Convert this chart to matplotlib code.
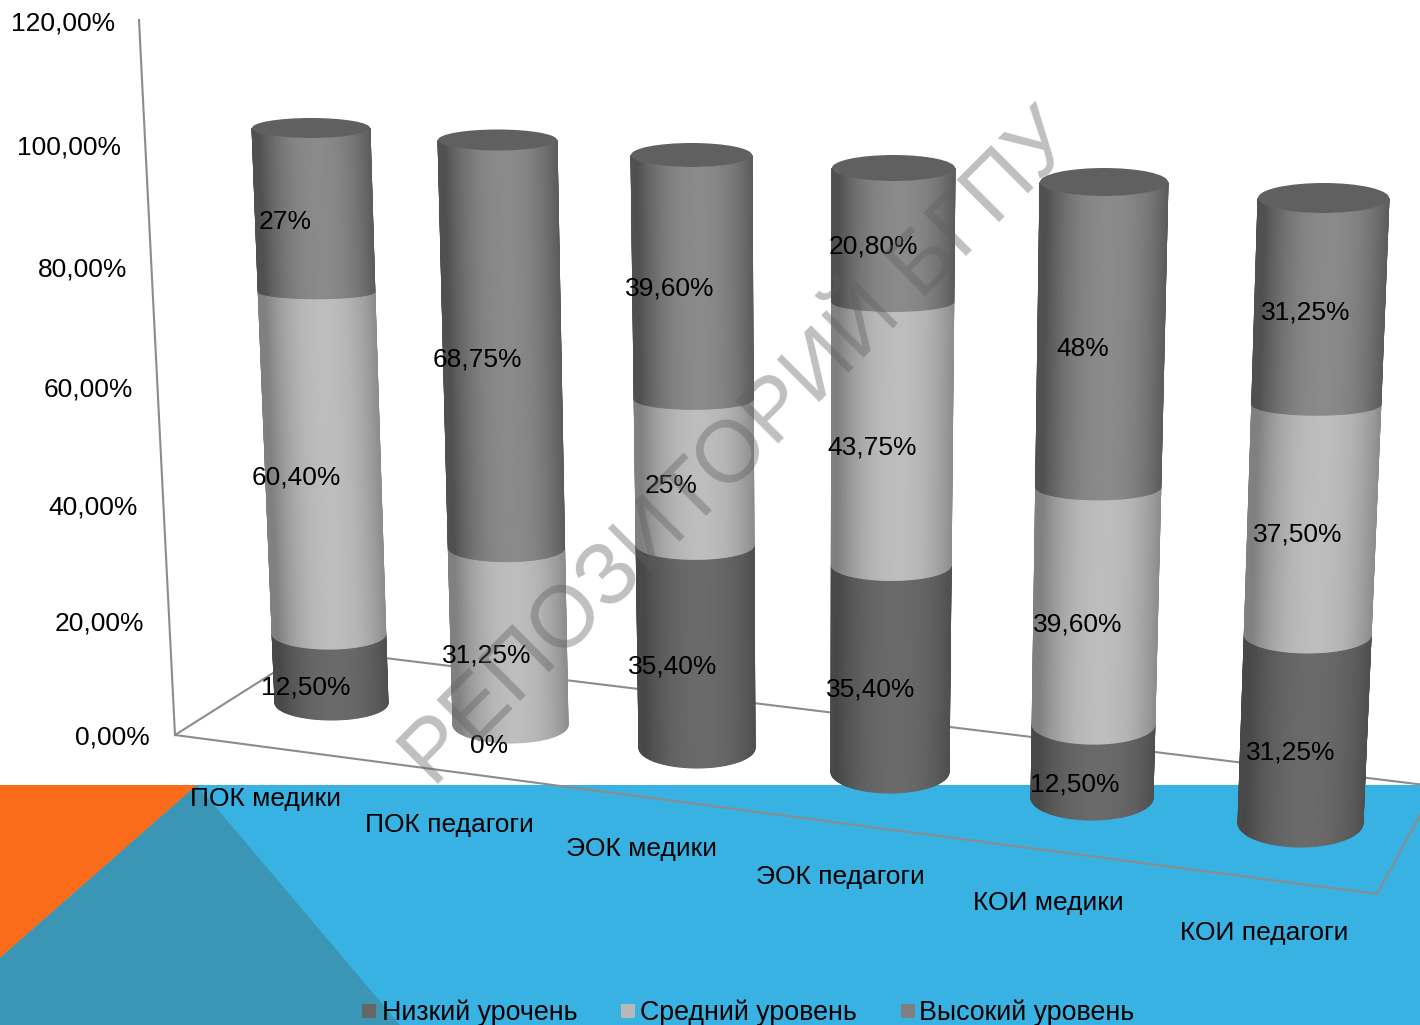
import numpy as np
import matplotlib
matplotlib.use('Agg')
import matplotlib.pyplot as plt
from matplotlib.colors import LinearSegmentedColormap
from matplotlib.patches import Ellipse, Polygon, Rectangle

plt.rcParams['font.family'] = ['Liberation Sans', 'DejaVu Sans']

# data
categories = ['ПОК медики', 'ПОК педагоги', 'ЭОК медики', 'ЭОК педагоги', 'КОИ медики', 'КОИ педагоги']
low = [12.5, 0, 35.4, 35.4, 12.5, 31.25]
mid = [60.4, 31.25, 25, 43.75, 39.6, 37.5]
high = [27, 68.75, 39.6, 20.8, 48, 31.25]
low_labels = ['12,50%', '0%', '35,40%', '35,40%', '12,50%', '31,25%']
mid_labels = ['60,40%', '31,25%', '25%', '43,75%', '39,60%', '37,50%']
high_labels = ['27%', '68,75%', '39,60%', '20,80%', '48%', '31,25%']
y_ticks = ['0,00%', '20,00%', '40,00%', '60,00%', '80,00%', '100,00%', '120,00%']
series_names = ['Низкий урочень', 'Средний уровень', 'Высокий уровень']

# perspective of the 3d chart, in pixels
top_left = [252, 438, 631, 832, 1040, 1258]
top_right = [370, 557, 752, 955, 1168, 1389]
bot_left = [275, 453, 639, 831, 1031, 1238]
bot_right = [388, 568, 755, 949, 1153, 1363]
top_cy = [128, 140, 155, 168, 182, 198]
front_bot = [720, 743, 768, 793, 820, 847]
cap_hh = [10, 10.5, 12, 13, 14, 15]
bot_hh = [17, 18, 20, 21, 22, 24]
side_hh = [7, 8, 8, 9, 9, 10]
label_dx = [-26, -23, -23, -20, -18, -14]
label_lean = [-6, -4, 0, 0, 0, -1]
label_drop = [-1, 0, 3, 3, 3, 5]
tick_right = [150, 144, 138, 133, 127, 121, 115]
tick_y = [738, 623, 507, 390, 270, 147, 24]
cat_x = [265, 449, 641, 840, 1048, 1264]
cat_y = [799, 825, 849, 877, 903, 933]
legend_sq = [362, 621, 901]
legend_tx = [382, 640, 919]

# edge / center shades of each series
shades = [('#484848', '#6a6a6a'), ('#808080', '#bdbdbd'), ('#505050', '#8a8a8a')]
legend_colors = ['#666666', '#b8b8b8', '#808080']
FRAME = '#8c8c8c'
TEXT_PT = 19


def bar_at(i, t):
    # center, half width, half height and center y of the slice at height t (0..1)
    s = t - 0.03 * t * (1 - t)
    left = bot_left[i] + (top_left[i] - bot_left[i]) * t
    right = bot_right[i] + (top_right[i] - bot_right[i]) * t
    front_top = top_cy[i] + cap_hh[i]
    front = front_bot[i] + (front_top - front_bot[i]) * s
    hh = np.interp(t, [0, 0.75, 1], [bot_hh[i], side_hh[i], cap_hh[i]])
    return (left + right) / 2, (right - left) / 2, hh, front - hh, front


def draw_segment(ax, i, t0, t1, cmap):
    cx0, rx0, hh0, cy0, _ = bar_at(i, t0)
    cx1, rx1, hh1, cy1, _ = bar_at(i, t1)
    theta = np.linspace(0, np.pi, 61)
    u = np.cos(theta)
    sn = np.sin(theta)
    X = np.vstack([cx0 + rx0 * u, cx1 + rx1 * u])
    Y = np.vstack([cy0 + hh0 * sn, cy1 + hh1 * sn])
    w = np.clip(1 - np.abs(u - 0.1) ** 2.2, 0, 1)
    ax.pcolormesh(X, Y, np.vstack([w, w]), cmap=cmap, vmin=0, vmax=1, shading='gouraud', zorder=3)


fig = plt.figure(figsize=(14.2, 10.25), dpi=100)
ax = fig.add_axes([0, 0, 1, 1])

# slide background
ax.add_patch(Rectangle((0, 785), 1420, 240, color='#38b2e2', lw=0, zorder=0))
ax.add_patch(Polygon([(0, 785), (197, 785), (0, 958)], color='#fb6c1a', lw=0, zorder=1))
ax.add_patch(Polygon([(0, 958), (197, 785), (400, 1025), (0, 1025)], color='#3a96b4', lw=0, zorder=1))

# chart frame
ax.plot([139, 175, 1377, 1425], [20, 735, 894, 806], color=FRAME, lw=1.5, zorder=2)
ax.plot([175, 311, 1425], [735, 649, 785], color=FRAME, lw=1.5, zorder=2)

series = [low, mid, high]
labels = [low_labels, mid_labels, high_labels]
cmaps = [LinearSegmentedColormap.from_list('s%d' % j, shades[j]) for j in range(3)]
for i in range(len(categories)):
    total = low[i] + mid[i] + high[i]
    acc = 0
    for j in range(3):
        t0 = acc / total
        acc += series[j][i]
        t1 = acc / total
        if series[j][i] > 0:
            draw_segment(ax, i, t0, t1, cmaps[j])
        cx0, _, _, _, f0 = bar_at(i, t0)
        cx1, _, _, _, f1 = bar_at(i, t1)
        tm = (t0 + t1) / 2
        lx = (cx0 + cx1) / 2 + label_dx[i] + label_lean[i] * (tm - 0.35)
        ly = (f0 + f1) / 2 + 3 - label_drop[i] * tm
        ax.text(lx, ly, labels[j][i], fontsize=TEXT_PT, ha='center', va='center', color='black', zorder=4.5)
    cx, rx, _, cy, _ = bar_at(i, 1)
    ax.add_patch(Ellipse((cx, top_cy[i]), 2 * rx, 2 * cap_hh[i], color='#606060', lw=0, zorder=4))

for tick, x, y in zip(y_ticks, tick_right, tick_y):
    ax.text(x, y, tick, fontsize=TEXT_PT, ha='right', va='center', zorder=6)
for cat, x, y in zip(categories, cat_x, cat_y):
    ax.text(x, y, cat, fontsize=TEXT_PT, ha='center', va='center', zorder=6)

# legend
for name, color, sx, tx in zip(series_names, legend_colors, legend_sq, legend_tx):
    ax.add_patch(Rectangle((sx, 1004), 14, 14, color=color, lw=0, zorder=6))
    ax.text(tx, 1013, name, fontsize=19.3, ha='left', va='center', zorder=6)

# watermark
ax.text(433, 788, 'РЕПОЗИТОРИЙ БГПУ', fontsize=63, color='#606060', alpha=0.4, rotation=45,
        rotation_mode='anchor', ha='left', va='baseline', zorder=5)

ax.set_xlim(0, 1420)
ax.set_ylim(1025, 0)
ax.axis('off')
fig.savefig('out.png', dpi=100)
